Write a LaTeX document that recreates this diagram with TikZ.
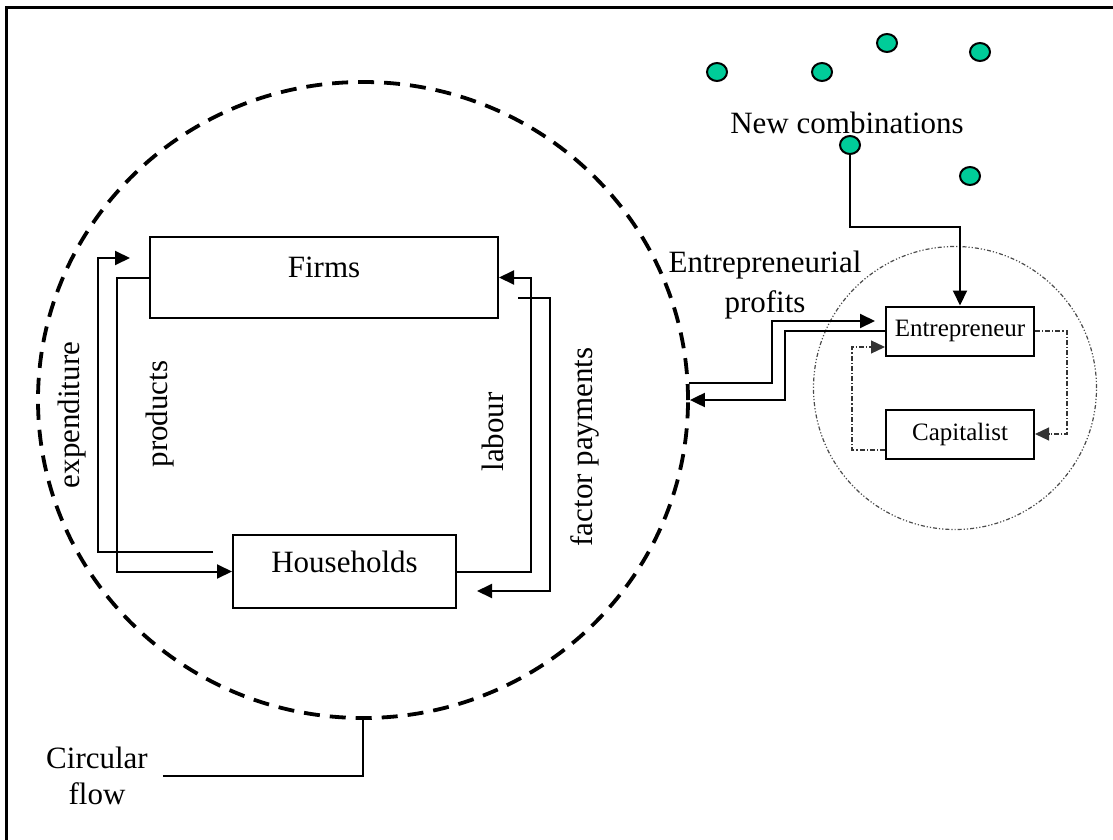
\documentclass[tikz,border=0pt]{standalone}
\usepackage{fontspec}
\setmainfont{Liberation Serif}
\usepackage{xcolor}
\usepackage{tikz}
\usetikzlibrary{shapes.geometric,arrows.meta,positioning}
\definecolor{combogreen}{RGB}{0,204,153}

\begin{document}
\begin{tikzpicture}[
  x=0.5pt, y=-0.5pt,
  bigbox/.style={draw, line width=1pt, font=\fontsize{15.5}{18}\selectfont, text depth=10pt},
  smallbox/.style={draw, line width=1pt, minimum width=74pt, minimum height=24.5pt, font=\fontsize{12.5}{15}\selectfont},
  lbl/.style={font=\fontsize{15.5}{18}\selectfont, align=center},
  combo/.style={draw, ellipse, line width=1pt, fill=combogreen, minimum width=10pt, minimum height=9pt, inner sep=0pt},
  arr/.style={-{Triangle[length=7.5pt,width=7pt]}, line width=1pt},
  darr/.style={-{Triangle[length=7pt,width=6.5pt]}, line width=0.6pt, black!80, dash pattern=on 2.5pt off 1pt on 0.6pt off 1pt},
  flowring/.style={draw, ellipse, line width=1.9pt, dash pattern=on 8pt off 5pt, minimum width=325pt, minimum height=318pt},
  entring/.style={draw, circle, line width=0.6pt, black!70, dash pattern=on 2pt off 1pt on 0.6pt off 1pt on 0.6pt off 1pt, minimum size=141.5pt}
]
\useasboundingbox (0,0) rectangle (1113,840);
\draw[line width=1.5pt] (6,840) -- (6,8) -- (1113,8);

\node[flowring] (cflow) at (363,400) {};
\node[entring] (entcirc) at (955,388) {};

\node[bigbox, minimum width=174pt, minimum height=40.5pt] (firms) at (324,277.5) {Firms};
\node[bigbox, minimum width=111.5pt, minimum height=36.5pt] (households) at (344.5,571.5) {Households};
\node[smallbox] (entr) at (960,331) {Entrepreneur};
\node[smallbox] (capit) at (960,434) {Capitalist};

\foreach \name/\x/\y in {n1/717/72, n2/822/72, n3/887/43, n4/980/52, n5/850/145, n6/970/176}
  \node[combo] (\name) at (\x,\y) {};
\node[lbl] (newcomb) at (847,123) {New combinations};
\node[lbl] (profits) at (765,285) {Entrepreneurial\\[2pt]profits};
\node[lbl] (cfl) at (97,776) {Circular\\flow};

\node[lbl, rotate=90] (expend) at (72,415) {expenditure};
\node[lbl, rotate=90] (prod) at (160,414) {products};
\node[lbl, rotate=90] (labour) at (493,432) {labour};
\node[lbl, rotate=90] (factor) at (585,447) {factor payments};

\coordinate (expS) at (213,552);
\coordinate (expE) at (130,258);
\coordinate (fpS) at (518,298);
\coordinate (fpE) at (477,591);
\coordinate (profE) at (875,321);

\draw[arr] (expS) -- ++(-115,0) |- (expE);
\draw[arr] (firms.west) -- ++(-32,0) |- (households.west);
\draw[arr] (households.east) -- ++(74,0) |- (firms.east);
\draw[arr] (fpS) -- ++(32,0) |- (fpE);

\draw[arr] (n5.south) -- ++(0,72) -| (entr.north);
\draw[arr] (cflow.3) -- ++(83,0) |- (profE);
\draw[arr] (entr.west) -- ++(-100,0) |- (cflow.east);
\draw[darr] (entr.east) -- ++(32,0) |- (capit.east);
\draw[darr] ([yshift=-8pt]capit.west) -- ++(-33,0) |- ([yshift=-8pt]entr.west);

\draw[line width=1pt] ([xshift=4pt]cfl.east) -| (cflow.south);
\end{tikzpicture}
\end{document}
